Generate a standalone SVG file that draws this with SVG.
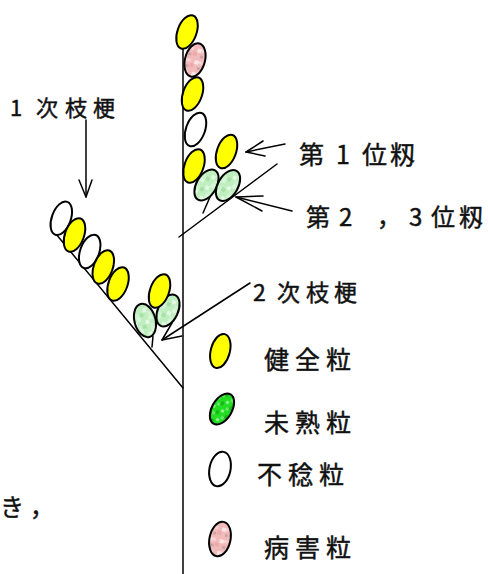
<svg xmlns="http://www.w3.org/2000/svg" width="488" height="574" viewBox="0 0 488 574">
  <style>
    .ln { stroke: #000; stroke-width: 1.5; fill: none; stroke-linecap: round; stroke-linejoin: round; }
    .gr { stroke: #000; stroke-width: 2; }
    .y { fill: #ffff00; }
    .w { fill: #ffffff; }
    .g { fill: url(#paleGreen); }
    .G { fill: url(#brightGreen); }
    .p { fill: url(#pink); }
    text { font-family: "Noto Sans CJK JP", "Noto Sans", sans-serif; fill: #111; stroke: #111; stroke-width: 0.45; }
    .lg { font-size: 25px; }
  </style>
  <defs>
    <pattern id="paleGreen" patternUnits="userSpaceOnUse" width="12" height="12">
      <rect width="12" height="12" fill="#bfeebf"/>
      <rect x="0" y="0" width="4" height="4" fill="#e4f9e4"/>
      <rect x="8" y="4" width="4" height="4" fill="#a6e2a6"/>
      <rect x="4" y="8" width="4" height="4" fill="#dcf6dc"/>
      <rect x="4" y="4" width="4" height="4" fill="#cdf2cd"/>
    </pattern>
    <pattern id="brightGreen" patternUnits="userSpaceOnUse" width="10" height="10">
      <rect width="10" height="10" fill="#22dd22"/>
      <rect x="0" y="0" width="3" height="3" fill="#8cf08c"/>
      <rect x="6" y="3" width="3" height="4" fill="#14b814"/>
      <rect x="3" y="6" width="3" height="3" fill="#66e866"/>
    </pattern>
    <pattern id="pink" patternUnits="userSpaceOnUse" width="12" height="12">
      <rect width="12" height="12" fill="#f2baba"/>
      <rect x="0" y="0" width="4" height="4" fill="#fbe4e4"/>
      <rect x="8" y="4" width="4" height="4" fill="#ecaaaa"/>
      <rect x="4" y="6" width="3" height="3" fill="#c9a6a6"/>
      <rect x="4" y="0" width="4" height="3" fill="#f8d4d4"/>
    </pattern>
  </defs>

  <!-- stems, branches and pointer arrows -->
  <g id="connectors">
    <line class="ln" x1="183" y1="44" x2="183" y2="574"/>
    <line class="ln" x1="179" y1="237" x2="277" y2="164"/>
    <line class="ln" x1="56" y1="234" x2="183" y2="388"/>
    <line class="ln" x1="203" y1="213" x2="210" y2="197"/>
    <line class="ln" x1="152" y1="347" x2="153" y2="336"/>
    <!-- 1次枝梗 pointer -->
    <line class="ln" x1="86" y1="120" x2="86" y2="197"/>
    <polyline class="ln" points="79,180 86,197 92,180"/>
    <!-- 第1位籾 pointer -->
    <line class="ln" x1="285" y1="144" x2="246" y2="152"/>
    <polyline class="ln" points="263,141 246,152 265,156"/>
    <!-- 第2，3位籾 pointer -->
    <line class="ln" x1="292" y1="211" x2="236" y2="197"/>
    <polyline class="ln" points="263,196 236,197 262,211"/>
    <!-- 2次枝梗 pointer -->
    <line class="ln" x1="250" y1="283" x2="162" y2="340"/>
    <polyline class="ln" points="172,323 162,340 182,336"/>
  </g>

  <!-- grains on the main axis -->
  <g id="axis-grains">
    <ellipse class="gr y" rx="9.5" ry="17.5" transform="translate(187,32) rotate(20)"/>
    <ellipse class="gr p" rx="10" ry="17" transform="translate(195,60) rotate(15)"/>
    <ellipse class="gr y" rx="9.5" ry="17.5" transform="translate(192.5,94) rotate(20)"/>
    <ellipse class="gr w" rx="9.5" ry="17.5" transform="translate(195.5,129.5) rotate(20)"/>
    <ellipse class="gr y" rx="9.5" ry="17.5" transform="translate(194,166) rotate(20)"/>
    <ellipse class="gr y" rx="9.5" ry="17.5" transform="translate(226.5,151.5) rotate(20)"/>
    <ellipse class="gr g" rx="10" ry="17" transform="translate(206.5,185) rotate(30)"/>
    <ellipse class="gr g" rx="10" ry="17" transform="translate(228,185.5) rotate(30)"/>
  </g>

  <!-- grains on the primary branch -->
  <g id="branch-grains">
    <ellipse class="gr w" rx="9.5" ry="17.5" transform="translate(61.3,218.3) rotate(20)"/>
    <ellipse class="gr y" rx="9.5" ry="17.5" transform="translate(74.5,235) rotate(20)"/>
    <ellipse class="gr w" rx="9.5" ry="17.5" transform="translate(89.7,251.5) rotate(20)"/>
    <ellipse class="gr y" rx="9.5" ry="17.5" transform="translate(103.3,267) rotate(20)"/>
    <ellipse class="gr y" rx="9.5" ry="17.5" transform="translate(118,284) rotate(20)"/>
  </g>

  <!-- grains on the secondary branch -->
  <g id="secondary-grains">
    <ellipse class="gr g" rx="10" ry="17" transform="translate(168,310.5) rotate(25)"/>
    <ellipse class="gr g" rx="10.5" ry="17" transform="translate(145,320.5) rotate(-15)"/>
    <ellipse class="gr y" rx="9.5" ry="17.5" transform="translate(159.5,291) rotate(20)"/>
  </g>

  <g id="label-primary">
    <text x="10 36 65 93" y="116" font-size="22">1次枝梗</text>
  </g>
  <g id="label-secondary">
    <text x="253 277 306 334" y="301" font-size="23">2次枝梗</text>
  </g>
  <g id="label-first">
    <text x="299 336 362 390" y="164" font-size="25">第1位籾</text>
  </g>
  <g id="label-second-third">
    <text x="306 339 377 409 431 459" y="226" font-size="24">第2，3位籾</text>
  </g>

  <!-- legend -->
  <g id="legend-sound">
    <ellipse class="gr y" rx="9.5" ry="17.5" transform="translate(220.3,351) rotate(15)"/>
    <text class="lg" x="264 295 326" y="369">健全粒</text>
  </g>
  <g id="legend-immature">
    <ellipse class="gr G" rx="10" ry="17" transform="translate(222,409) rotate(30)"/>
    <text class="lg" x="264 295 326" y="432">未熟粒</text>
  </g>
  <g id="legend-sterile">
    <ellipse class="gr w" rx="10.5" ry="17.5" transform="translate(220,469) rotate(12)"/>
    <text class="lg" x="257 288 319" y="484">不稔粒</text>
  </g>
  <g id="legend-diseased">
    <ellipse class="gr p" rx="10.5" ry="17.5" transform="translate(220,539) rotate(12)"/>
    <text class="lg" x="264 295 326" y="557">病害粒</text>
  </g>

  <g id="fragment">
    <text x="0 30" y="516" font-size="24">き，</text>
  </g>
</svg>
